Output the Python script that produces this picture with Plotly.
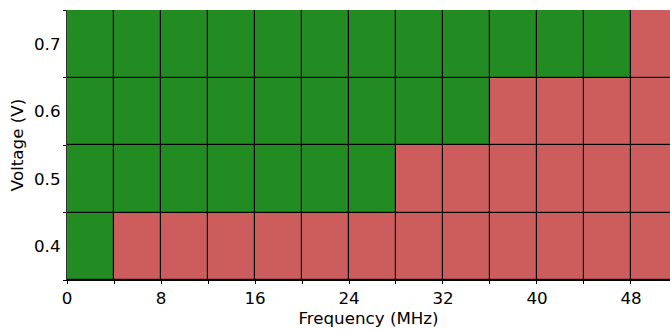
import plotly.graph_objects as go

freq_bins = [2, 6, 10, 14, 18, 22, 26, 30, 34, 38, 42, 46, 50]  # bin centres (MHz), width 4
voltages = [0.4, 0.5, 0.6, 0.7]
# 1 = pass (green), 0 = fail (red)
pass_04 = [1, 0, 0, 0, 0, 0, 0, 0, 0, 0, 0, 0, 0]
pass_05 = [1, 1, 1, 1, 1, 1, 1, 0, 0, 0, 0, 0, 0]
pass_06 = [1, 1, 1, 1, 1, 1, 1, 1, 1, 0, 0, 0, 0]
pass_07 = [1, 1, 1, 1, 1, 1, 1, 1, 1, 1, 1, 1, 0]
x_ticks = [0, 8, 16, 24, 32, 40, 48]

z = [pass_04, pass_05, pass_06, pass_07]

fig = go.Figure(go.Heatmap(
    x=freq_bins, y=voltages, z=z,
    zmin=0, zmax=1,
    colorscale=[[0, "#CD5C5C"], [0.5, "#CD5C5C"], [0.5, "#228B22"], [1, "#228B22"]],
    showscale=False, xgap=1.2, ygap=1.2, hoverinfo="skip",
))

font = dict(family="DejaVu Sans", size=16.7, color="black")
fig.update_layout(
    width=670, height=329,
    margin=dict(l=67, r=0, t=10, b=49),
    plot_bgcolor="black", paper_bgcolor="white",
    font=font, showlegend=False,
)
fig.update_xaxes(
    range=[0, 51.32], tickvals=x_ticks, ticktext=[str(v) for v in x_ticks],
    ticks="outside", ticklen=3, tickcolor="black", tickwidth=1,
    minor=dict(tickvals=[4, 12, 20, 28, 36, 44], ticks="outside", ticklen=3, tickcolor="black"),
    showgrid=False, zeroline=False, showline=True, linecolor="black", linewidth=1.2,
    automargin=False,
    title=dict(text="Frequency (MHz)", standoff=3, font=font),
)
fig.update_yaxes(
    range=[0.35, 0.75], tickvals=voltages, ticktext=[str(v) for v in voltages],
    ticks="", minor=dict(tickvals=[0.35, 0.45, 0.55, 0.65, 0.75], ticks="outside", ticklen=3, tickcolor="black"),
    showgrid=False, zeroline=False, showline=True, linecolor="#333", linewidth=1.2, mirror=True,
    automargin=False, ticklabelstandoff=2,
    title=dict(text="Voltage (V)", standoff=6, font=font),
)
fig.write_html("out.html", config={"displayModeBar": False},
               post_script="document.body.style.margin='0';document.body.style.overflow='hidden';")
